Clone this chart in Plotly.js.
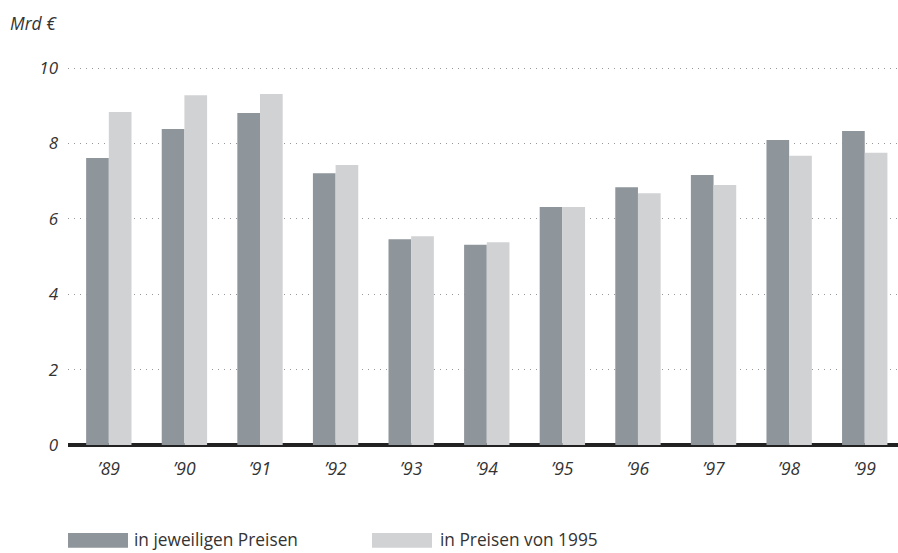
<!DOCTYPE html>
<html><head><meta charset="utf-8">
<script src="https://cdn.plot.ly/plotly-3.0.1.min.js"></script>
<style>body{margin:0;background:#fff}#c{width:898px;height:553px}</style>
</head><body><div id="c"></div>
<script>
const years = ["’89","’90","’91","’92","’93","’94","’95","’96","’97","’98","’99"];
const currentPrices = [7.61, 8.38, 8.81, 7.21, 5.46, 5.31, 6.31, 6.84, 7.16, 8.09, 8.33];
const prices1995 = [8.83, 9.28, 9.31, 7.43, 5.54, 5.38, 6.31, 6.68, 6.90, 7.67, 7.75];
const seriesNames = ["in jeweiligen Preisen", "in Preisen von 1995"];
const yTicks = [0, 2, 4, 6, 8, 10];
const unitLabel = "Mrd €";

const colors = ["#8e959b", "#d1d2d4"];
const font = "'Open Sans', sans-serif";

const traces = [
  {type:"bar", x:years, y:currentPrices, name:seriesNames[0], marker:{color:colors[0]}, hoverinfo:"none"},
  {type:"bar", x:years, y:prices1995, name:seriesNames[1], marker:{color:colors[1]}, hoverinfo:"none"}
];

const layout = {
  width:898, height:553,
  margin:{l:68, r:0, t:67, b:108},
  paper_bgcolor:"#fff", plot_bgcolor:"#fff",
  barmode:"group", bargap:0.4, bargroupgap:0,
  showlegend:false,
  font:{family:font, color:"#333", size:15},
  xaxis:{type:"category", range:[-0.54, 10.44], showgrid:false, zeroline:false, showline:false,
         ticks:"", tickfont:{family:font, size:17.5, style:"italic", color:"#333"}, ticklabelstandoff:11},
  yaxis:{range:[0,10.027], tickvals:yTicks, ticktext:yTicks.map(String), showgrid:true, gridcolor:"#999", griddash:"1px,5px", gridwidth:1,
         zeroline:true, zerolinecolor:"#222", zerolinewidth:4, showline:false, ticks:"",
         tickfont:{family:font, size:17, style:"italic", color:"#333"}, ticklabelstandoff:9},
  shapes:[
    {type:"rect", xref:"paper", yref:"paper", x0:0, x1:60/830, y0:-0.272, y1:-0.233, fillcolor:colors[0], line:{width:0}},
    {type:"rect", xref:"paper", yref:"paper", x0:304/830, x1:364/830, y0:-0.272, y1:-0.233, fillcolor:colors[1], line:{width:0}}
  ],
  annotations:[
    {text:unitLabel, xref:"paper", yref:"paper", x:-60/830, y:1+44/378, xanchor:"left", yanchor:"middle", showarrow:false,
     font:{family:font, size:17.5, style:"italic", color:"#333"}},
    {text:seriesNames[0], xref:"paper", yref:"paper", x:64/830, y:-0.251, xanchor:"left", yanchor:"middle", showarrow:false,
     font:{family:font, size:17.3, color:"#333"}},
    {text:seriesNames[1], xref:"paper", yref:"paper", x:370/830, y:-0.251, xanchor:"left", yanchor:"middle", showarrow:false,
     font:{family:font, size:17.3, color:"#333"}}
  ]
};
Plotly.newPlot("c", traces, layout, {staticPlot:true, displayModeBar:false});
</script></body></html>
